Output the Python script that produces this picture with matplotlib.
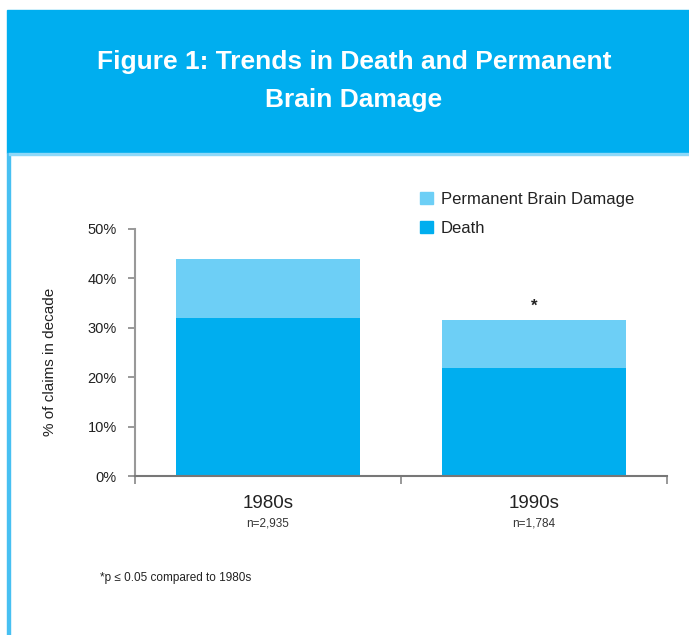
import matplotlib
matplotlib.use("Agg")
import matplotlib.pyplot as plt
from matplotlib.patches import Rectangle, Patch

decades = ["1980s", "1990s"]
sample_sizes = ["n=2,935", "n=1,784"]
death = [32.0, 21.8]
brain_damage = [12.0, 9.7]
significant = [False, True]

yticks = [0, 10, 20, 30, 40, 50]

DEATH_COL = "#00AEEF"
PBD_COL = "#6DCFF6"
W, H = 689, 635

plt.rcParams['font.family'] = ['Liberation Sans', 'DejaVu Sans']

fig = plt.figure(figsize=(W / 100, H / 100), dpi=100)

def fx(px):
    return px / W

def fy(py):
    return 1 - py / H

# banner and left border
fig.patches.append(Rectangle((fx(7), fy(153)), fx(689 - 7), (153 - 10) / H,
                             transform=fig.transFigure, color=DEATH_COL, zorder=0))
fig.patches.append(Rectangle((fx(7), 0), fx(2.5), fy(153),
                             transform=fig.transFigure, color="#47C0F2", zorder=0))
fig.patches.append(Rectangle((fx(9), fy(155)), fx(680), 2 / H,
                             transform=fig.transFigure, color="#8ED8F8", zorder=0))

title_font = ['Liberation Sans Narrow', 'Liberation Sans', 'DejaVu Sans']
fig.text(fx(354), fy(62), "Figure 1: Trends in Death and Permanent", color="white",
         fontsize=19, fontweight="bold", ha="center", va="center", family=title_font)
fig.text(fx(354), fy(100), "Brain Damage", color="white",
         fontsize=19, fontweight="bold", ha="center", va="center", family=title_font)

ax = fig.add_axes([fx(135), fy(476), fx(667 - 135), (476 - 229) / H])
x = list(range(len(decades)))
ax.bar(x, death, width=0.69, color=DEATH_COL, label="Death")
ax.bar(x, brain_damage, width=0.69, bottom=death, color=PBD_COL,
       label="Permanent Brain Damage")

for i, sig in enumerate(significant):
    if sig:
        ax.text(i, death[i] + brain_damage[i] + 1.3, "*", ha="center", va="bottom",
                fontsize=12, fontweight="bold", color="#222222")

ax.set_xlim(-0.5, len(decades) - 0.5)
ax.set_ylim(0, 50)
ax.set_yticks(yticks)
ax.set_yticklabels([f"{v}%" for v in yticks], fontsize=10.5, color="#222222")
ax.set_xticks([i - 0.5 for i in range(len(decades) + 1)])
ax.set_xticklabels([])
ax.set_xticks(x, minor=True)
ax.set_xticklabels(decades, minor=True, fontsize=13.5, color="#222222")
ax.tick_params(axis="x", which="minor", length=0, pad=14)
ax.tick_params(axis="x", which="major", length=6, color="#888888", width=1.2)
ax.tick_params(axis="y", length=5, color="#888888", width=1.2, pad=8)

for i, n in enumerate(sample_sizes):
    ax.annotate(n, xy=(i, 0), xycoords="data", xytext=(0, -34), textcoords="offset points",
                ha="center", va="center", fontsize=8.5, color="#333333")

for side in ["top", "right"]:
    ax.spines[side].set_visible(False)
ax.spines["left"].set_color("#999999")
ax.spines["left"].set_linewidth(1.5)
ax.spines["bottom"].set_color("#777777")
ax.spines["bottom"].set_linewidth(1.5)

fig.text(fx(50), fy(362), "% of claims in decade", rotation=90, ha="center", va="center",
         fontsize=11, color="#222222")

handles = [Patch(color=PBD_COL), Patch(color=DEATH_COL)]
fig.legend(handles, ["Permanent Brain Damage", "Death"], loc="upper left",
           bbox_to_anchor=(fx(405), fy(177)), frameon=False, fontsize=12,
           handlelength=0.75, handleheight=0.75, handletextpad=0.5, labelspacing=0.85,
           labelcolor="#222222")

fig.text(fx(100), fy(578), "*p \u2264 0.05 compared to 1980s", ha="left", va="center",
         fontsize=8.5, color="#222222")

fig.savefig("out.png", dpi=100)
